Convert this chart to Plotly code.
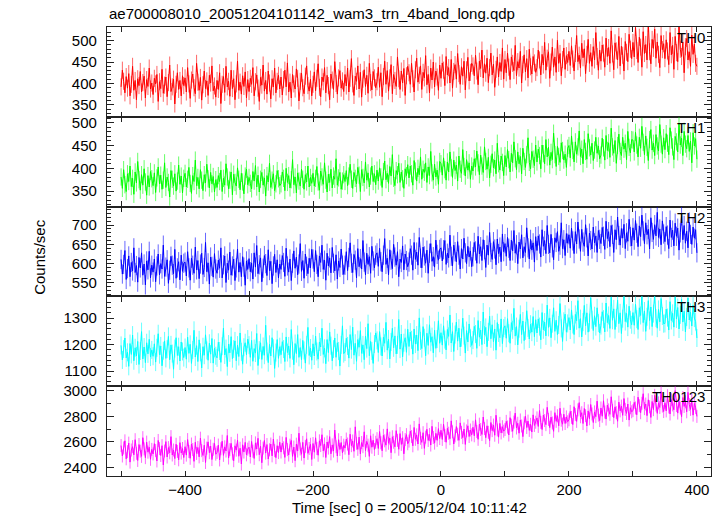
import plotly.graph_objects as go
from plotly.subplots import make_subplots

TITLE = "ae700008010_20051204101142_wam3_trn_4band_long.qdp"
X_TITLE = "Time [sec] 0 = 2005/12/04 10:11:42"
Y_TITLE = "Counts/sec"
BAND_NAMES = ["TH0", "TH1", "TH2", "TH3", "TH0123"]
BIN_START = -500   # sec, first bin
BIN_WIDTH = 2      # sec

TH0 = [
 392,431,405,378,416,389,423,371,398,440,384,407,362,411,395,428,380,402,417,366,409,393,436,387,401,
 374,412,399,421,358,404,388,433,377,396,415,369,402,443,381,392,410,352,398,425,386,407,371,418,395,
 413,380,437,399,365,408,422,390,376,447,403,384,414,361,397,429,388,406,372,419,401,441,383,394,368,
 407,386,425,353,398,416,379,440,392,405,370,431,388,411,362,399,452,384,403,375,418,393,427,366,409,
 381,412,398,437,371,404,420,389,358,414,396,443,382,407,375,429,401,364,411,392,436,378,405,419,387,
 415,373,409,431,392,448,380,403,366,421,399,387,434,412,359,405,424,390,376,417,441,395,382,410,371,
 398,427,383,412,446,391,369,415,404,437,378,419,395,362,422,408,386,451,400,375,413,430,389,406,381,
 421,394,436,380,412,458,399,372,417,405,441,387,426,368,410,432,393,419,377,447,402,385,428,413,390,
 404,438,391,425,369,416,452,398,430,382,413,444,376,421,407,393,462,411,386,429,401,435,372,418,440,
 425,398,447,411,380,432,459,403,419,441,386,426,413,465,397,421,378,436,408,450,392,429,415,384,443,
 412,448,431,395,463,420,437,401,456,389,428,444,410,470,423,398,439,417,452,385,432,461,406,426,447,
 441,418,466,429,397,452,435,478,413,446,424,459,402,437,471,420,445,391,433,462,415,449,428,483,410,
 456,425,471,438,409,462,447,430,489,418,451,436,475,401,444,467,427,458,413,480,439,422,463,448,426,
 437,478,455,420,468,443,496,431,459,474,412,450,485,438,462,426,501,447,470,418,456,483,433,465,449,
 475,442,488,457,429,470,512,451,466,436,494,460,481,423,468,503,447,472,440,486,455,519,463,431,478,
 452,490,471,438,506,463,484,447,523,469,432,495,476,455,510,441,487,466,429,498,473,451,515,480,458,
 496,462,531,477,449,508,485,438,521,470,491,455,540,474,446,503,482,527,459,497,468,437,512,479,493,
 458,502,476,444,519,467,489,433,510,472,451,536,480,463,497,425,486,505,455,474,440,513,468,492,447,
 440]

TH1 = [
 381,356,397,364,349,388,371,405,360,378,343,392,368,415,375,352,386,363,399,370,341,384,359,393,377,
 362,390,347,379,403,366,385,354,374,412,358,381,369,337,395,376,361,388,350,372,407,365,383,346,378,
 389,359,376,402,367,345,384,371,418,362,380,355,397,374,351,386,368,409,377,357,391,366,382,348,375,
 358,384,371,396,349,378,363,410,381,355,374,392,342,387,369,361,401,376,353,389,370,344,383,398,364,
 380,367,355,393,372,406,359,385,348,376,391,363,379,339,384,370,411,358,374,388,351,366,395,377,362,
 366,392,378,351,400,369,384,357,375,419,364,381,346,390,372,361,398,376,354,386,370,405,359,380,367,
 389,361,378,404,370,352,394,381,365,412,374,348,387,369,398,357,383,376,421,363,379,391,354,372,386,
 371,395,362,383,409,376,356,391,378,366,402,385,349,397,380,368,414,374,390,359,383,405,371,388,364,
 396,372,401,381,358,393,416,375,389,367,404,383,430,378,362,395,386,411,369,392,377,356,399,384,408,
 379,405,388,363,417,394,372,400,386,425,376,398,391,412,369,403,384,437,390,374,409,381,396,365,415,
 410,385,423,397,374,414,392,436,401,380,418,395,407,372,427,398,389,441,404,383,419,396,412,376,405,
 394,421,403,438,412,386,429,405,391,447,415,398,424,379,409,432,401,418,388,455,410,396,427,413,384,
 428,403,441,419,392,433,412,458,421,397,436,410,426,388,444,415,402,430,467,413,399,437,420,406,451,
 414,442,428,399,451,432,410,463,425,446,407,435,419,477,430,404,448,426,413,456,439,418,431,402,444,
 450,423,471,439,414,458,431,447,482,426,442,410,463,437,420,476,445,429,455,417,440,468,433,449,421,
 429,466,445,418,472,439,456,424,488,447,433,461,411,450,475,437,428,468,442,455,419,481,446,434,463,
 462,436,479,451,425,468,444,492,457,430,471,446,417,463,485,440,455,428,474,449,438,496,453,431,467,
 441,476,455,430,489,462,447,419,470,458,436,498,451,466,428,481,453,443,472,437,460,412,478,449,465,
 420]

TH2 = [
 611,573,598,634,559,587,620,566,603,581,641,577,595,552,616,589,628,570,599,545,607,584,632,563,596,
 578,612,553,594,625,571,600,586,648,567,591,610,549,583,619,596,574,637,562,589,605,558,622,580,601,
 604,568,631,589,557,614,596,575,643,584,608,561,599,627,572,590,655,579,602,547,617,593,565,626,586,
 575,609,588,641,563,597,620,551,601,583,630,570,594,612,556,589,638,578,603,566,618,591,544,607,585,
 613,579,602,560,628,591,647,574,597,615,553,588,621,600,569,636,582,606,548,594,624,577,610,563,599,
 585,621,603,567,640,594,578,612,556,601,633,588,617,571,599,652,580,608,562,625,593,574,614,589,637,
 612,579,634,598,566,620,603,648,585,609,557,627,594,615,576,642,601,581,623,560,607,590,638,596,572,
 596,631,582,616,654,601,577,624,609,563,639,592,613,586,660,604,571,627,598,618,575,645,607,589,622,
 628,593,640,605,579,622,665,598,614,571,636,609,587,650,617,596,631,566,612,603,646,584,625,608,592,
 604,639,622,583,655,611,630,596,668,614,589,643,620,601,635,575,627,652,606,618,591,661,624,609,637,
 641,607,636,660,598,627,615,674,619,594,648,631,605,657,622,586,639,612,666,628,600,645,617,633,592,
 618,655,633,601,671,625,644,608,662,636,590,648,622,681,629,611,657,638,597,664,626,643,605,677,631,
 652,619,668,640,608,661,633,686,627,649,600,656,638,675,615,644,629,693,641,612,663,635,654,604,670,
 634,672,651,617,688,645,660,626,699,650,628,676,641,610,667,655,683,632,648,706,639,662,621,678,653,
 675,640,692,659,626,683,651,708,664,632,689,656,645,701,667,620,679,660,638,695,654,672,629,686,663,
 652,694,671,637,710,665,683,644,699,676,629,688,662,721,673,648,691,666,702,639,680,658,715,670,646,
 693,661,712,679,644,698,670,726,685,652,706,675,689,638,719,681,663,701,672,733,668,690,649,711,677,
 657,696,674,639,713,668,687,646,705,671,692,635,680,724,662,699,653,684,641,708,676,650,695,666,688,
 628]

TH3 = [
 1197,1142,1183,1225,1150,1171,1118,1204,1163,1236,1139,1188,1157,1212,1125,1176,1249,1146,1191,1132,1207,1165,1220,1153,1180,
 1156,1203,1134,1188,1241,1162,1195,1120,1177,1214,1148,1183,1231,1143,1199,1166,1107,1185,1226,1159,1192,1138,1210,1174,1151,
 1189,1145,1228,1167,1201,1129,1180,1254,1153,1196,1136,1218,1171,1112,1192,1160,1237,1178,1141,1205,1164,1223,1130,1186,1158,
 1150,1209,1176,1133,1194,1262,1161,1185,1117,1202,1169,1230,1147,1183,1214,1139,1198,1155,1244,1173,1126,1190,1207,1162,1221,
 1198,1152,1216,1137,1185,1168,1242,1121,1179,1207,1144,1193,1160,1273,1174,1132,1201,1157,1226,1186,1110,1170,1219,1148,1192,
 1162,1211,1183,1136,1229,1170,1195,1148,1257,1177,1124,1204,1166,1238,1152,1189,1143,1216,1178,1130,1199,1265,1159,1187,1141,
 1203,1157,1232,1174,1145,1210,1191,1262,1163,1186,1128,1219,1170,1248,1196,1139,1183,1225,1152,1207,1176,1119,1199,1271,1166,
 1172,1224,1195,1149,1238,1181,1266,1160,1205,1137,1219,1190,1253,1167,1199,1143,1232,1185,1279,1158,1212,1176,1129,1202,1244,
 1216,1170,1249,1193,1157,1228,1205,1284,1179,1221,1146,1210,1262,1188,1233,1165,1199,1295,1183,1240,1154,1207,1226,1171,1258,
 1193,1247,1218,1164,1259,1202,1236,1177,1301,1214,1185,1268,1226,1158,1243,1197,1275,1209,1230,1169,1254,1186,1221,1290,1205,
 1245,1198,1271,1219,1180,1257,1231,1312,1206,1249,1174,1238,1285,1213,1262,1191,1226,1300,1234,1168,1253,1210,1278,1224,1197,
 1217,1269,1240,1186,1291,1228,1255,1200,1323,1236,1265,1192,1248,1307,1222,1275,1211,1259,1179,1283,1244,1226,1297,1204,1262,
 1271,1224,1298,1243,1205,1283,1256,1337,1232,1268,1199,1260,1314,1238,1289,1215,1252,1328,1263,1221,1277,1247,1306,1230,1294,
 1244,1297,1268,1218,1321,1256,1285,1233,1349,1265,1301,1226,1279,1339,1250,1292,1238,1274,1355,1261,1212,1288,1315,1247,1280,
 1302,1255,1331,1276,1238,1314,1290,1366,1262,1298,1229,1285,1348,1271,1320,1247,1283,1377,1294,1253,1309,1268,1339,1281,1244,
 1272,1324,1296,1248,1357,1283,1310,1261,1379,1292,1335,1257,1301,1368,1279,1320,1242,1298,1384,1287,1318,1266,1345,1294,1275,
 1321,1273,1352,1296,1257,1339,1310,1384,1283,1327,1250,1305,1366,1291,1342,1268,1317,1389,1300,1262,1333,1286,1374,1308,1279,
 1280,1334,1302,1255,1362,1291,1318,1266,1381,1297,1340,1259,1312,1371,1285,1326,1248,1304,1376,1293,1322,1270,1349,1300,1287,
 1225]

TH0123 = [
 2571,2489,2552,2608,2467,2523,2590,2441,2536,2562,2498,2617,2510,2454,2579,2527,2486,2633,2545,2476,2598,2519,2558,2463,2541,
 2505,2586,2532,2450,2611,2547,2493,2570,2419,2528,2602,2481,2555,2514,2641,2497,2536,2469,2581,2525,2459,2594,2512,2548,2477,
 2562,2496,2618,2524,2471,2583,2540,2447,2597,2509,2556,2482,2629,2531,2493,2574,2438,2551,2600,2515,2567,2461,2542,2588,2503,
 2517,2575,2458,2546,2605,2494,2561,2528,2650,2473,2539,2588,2506,2452,2569,2535,2613,2487,2550,2426,2577,2520,2596,2498,2543,
 2558,2481,2603,2527,2470,2592,2544,2628,2499,2565,2436,2551,2611,2512,2579,2465,2538,2583,2490,2622,2531,2476,2570,2516,2597,
 2520,2590,2553,2478,2635,2539,2497,2574,2611,2486,2559,2452,2582,2528,2668,2544,2503,2596,2473,2565,2624,2510,2548,2581,2462,
 2587,2519,2632,2548,2495,2608,2571,2656,2530,2584,2477,2599,2551,2641,2506,2576,2528,2693,2562,2489,2617,2540,2595,2513,2574,
 2551,2622,2583,2499,2660,2570,2607,2526,2718,2589,2541,2637,2506,2595,2562,2679,2531,2604,2574,2486,2648,2558,2613,2540,2597,
 2625,2548,2681,2593,2530,2651,2608,2574,2702,2589,2629,2515,2640,2597,2561,2688,2612,2542,2665,2580,2633,2506,2618,2657,2585,
 2606,2684,2641,2569,2713,2620,2655,2583,2741,2628,2596,2672,2549,2637,2699,2611,2658,2575,2722,2634,2590,2667,2612,2704,2626,
 2691,2619,2738,2650,2597,2706,2668,2625,2765,2679,2583,2647,2720,2661,2612,2749,2674,2633,2701,2580,2686,2726,2642,2693,2655,
 2715,2648,2773,2681,2620,2739,2697,2658,2795,2704,2633,2726,2675,2610,2752,2688,2732,2652,2809,2693,2637,2745,2670,2719,2684,
 2697,2761,2716,2654,2790,2731,2683,2755,2826,2709,2746,2668,2772,2725,2641,2749,2801,2713,2763,2690,2738,2677,2812,2729,2754,
 2788,2721,2846,2753,2697,2810,2767,2735,2871,2776,2712,2794,2748,2683,2829,2761,2805,2726,2864,2770,2739,2817,2744,2796,2758,
 2773,2839,2792,2736,2876,2814,2761,2851,2908,2797,2829,2744,2862,2806,2725,2843,2781,2893,2819,2752,2835,2798,2920,2810,2767,
 2866,2801,2923,2834,2779,2889,2851,2816,2954,2847,2790,2875,2829,2762,2912,2843,2881,2808,2940,2855,2823,2897,2771,2868,2836,
 2845,2910,2866,2813,2951,2884,2829,2903,2978,2861,2897,2806,2930,2876,2792,2917,2853,2965,2889,2824,2906,2870,2995,2881,2838,
 2907,2843,2962,2874,2819,2931,2890,2852,3002,2885,2826,2919,2866,2798,2948,2878,2915,2836,2989,2893,2855,2927,2810,2901,2869,
 2800]

SERIES = [TH0, TH1, TH2, TH3, TH0123]
ERRORS = [20, 19, 25, 34, 51]          # 1-sigma count-rate errors per band
Y_RANGES = [[322, 532], [316, 513], [515, 748], [1043, 1382], [2332, 3037]]
Y_DTICK = [50, 50, 50, 100, 200]
Y_MINOR = [10, 10, 10, 20, 100]
X_RANGE = [-522, 422]

COLORS = ["#ff0000", "#00ff00", "#0000ff", "#00ffff", "#ff00ff"]
ERR_COLORS = ["rgba(255,0,0,0.6)", "rgba(0,255,0,0.6)", "rgba(0,0,255,0.6)",
              "rgba(0,255,255,0.6)", "rgba(255,0,255,0.6)"]

FONT = "Liberation Sans, Arial, Helvetica, sans-serif"
AXC = "#222222"

fig = make_subplots(rows=5, cols=1, shared_xaxes=True, vertical_spacing=0)

for i, vals in enumerate(SERIES):
    t = [BIN_START + BIN_WIDTH * k for k in range(len(vals))]
    fig.add_trace(go.Scatter(
        x=t, y=vals, mode="lines",
        line=dict(color=COLORS[i], width=1),
        error_y=dict(type="constant", value=ERRORS[i], color=ERR_COLORS[i],
                     thickness=1, width=0),
        hoverinfo="skip", showlegend=False), row=i + 1, col=1)

for i in range(5):
    fig.update_yaxes(
        range=Y_RANGES[i], dtick=Y_DTICK[i], tick0=0, automargin=False,
        ticks="inside", ticklen=7, tickwidth=1, tickcolor=AXC,
        showline=True, linecolor=AXC, linewidth=1.3, mirror="allticks",
        showgrid=False, zeroline=False, ticklabelstandoff=6,
        tickfont=dict(family=FONT, size=15, color="black"),
        minor=dict(dtick=Y_MINOR[i], tick0=0, ticks="inside", ticklen=4,
                   tickcolor=AXC, tickwidth=1, showgrid=False),
        row=i + 1, col=1)
    fig.update_xaxes(
        range=X_RANGE, dtick=200, tick0=0, automargin=False,
        ticks="inside", ticklen=5, tickwidth=1, tickcolor=AXC,
        showline=True, linecolor=AXC, linewidth=1.3, mirror="allticks",
        showgrid=False, zeroline=False,
        showticklabels=(i == 4),
        tickfont=dict(family=FONT, size=15, color="black"),
        minor=dict(dtick=100, tick0=0, ticks="inside", ticklen=5,
                   tickcolor=AXC, tickwidth=1, showgrid=False),
        row=i + 1, col=1)

annotations = []
for i, name in enumerate(BAND_NAMES):
    yref = "y domain" if i == 0 else f"y{i + 1} domain"
    annotations.append(dict(text=name, xref="paper", yref=yref, x=0.993, y=1.0,
                            xanchor="right", yanchor="top", showarrow=False,
                            font=dict(family=FONT, size=15, color="black")))
annotations.append(dict(text=TITLE, xref="paper", yref="paper", x=0, y=1.029,
                        xanchor="left", yanchor="middle", showarrow=False,
                        font=dict(family=FONT, size=15, color="black")))
annotations.append(dict(text=X_TITLE, xref="paper", yref="paper", x=0.5, y=-0.071,
                        xanchor="center", yanchor="middle", showarrow=False,
                        font=dict(family=FONT, size=15, color="black")))
annotations.append(dict(text=Y_TITLE, xref="paper", yref="paper", x=-0.111, y=0.488,
                        xanchor="center", yanchor="middle", textangle=-90,
                        showarrow=False,
                        font=dict(family=FONT, size=15, color="black")))

fig.update_layout(
    width=724, height=516,
    margin=dict(l=107, r=13, t=27, b=40),
    paper_bgcolor="white", plot_bgcolor="white",
    showlegend=False, annotations=annotations,
    font=dict(family=FONT, size=15, color="black"),
)

fig.write_html("out.html",
               config={"displayModeBar": False},
               post_script="document.body.style.margin='0';document.body.style.padding='0';")
